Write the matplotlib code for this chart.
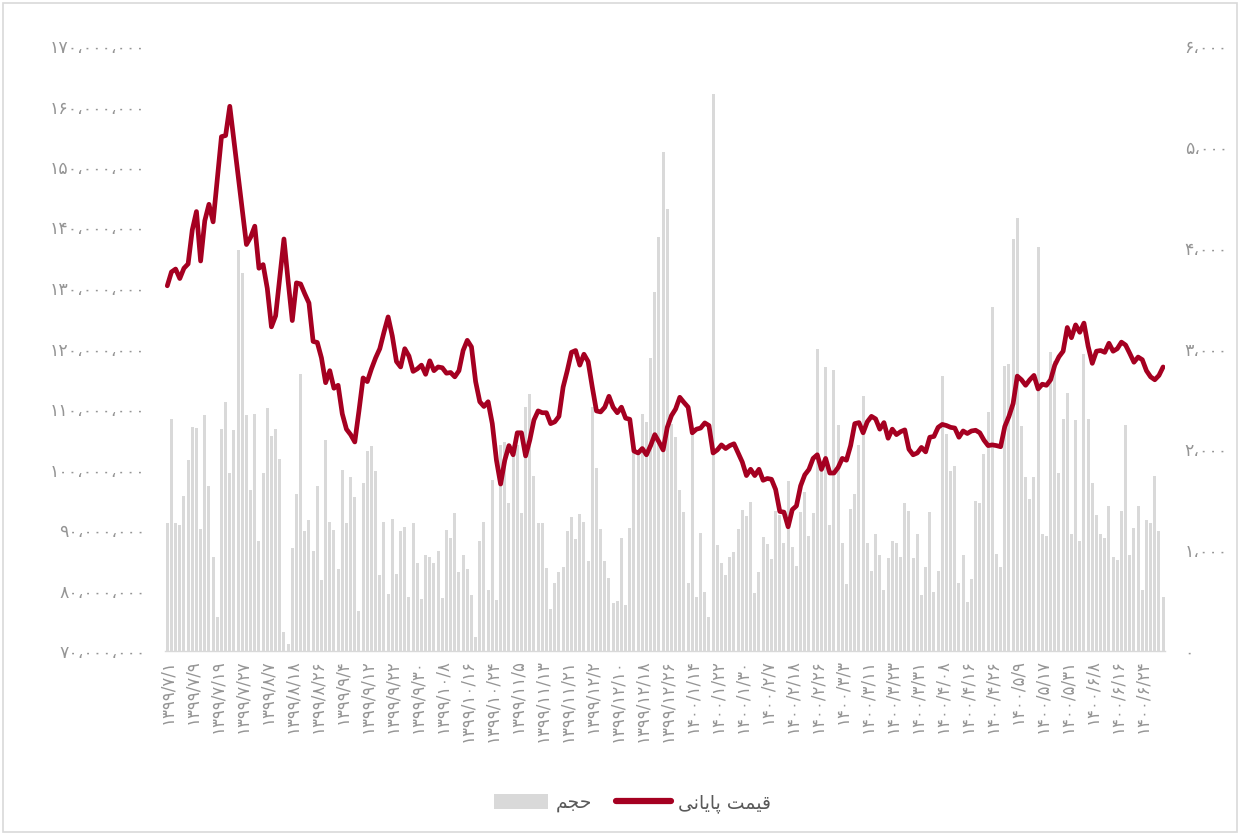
import matplotlib
matplotlib.use('Agg')
import matplotlib.pyplot as plt
import numpy as np
from matplotlib.patches import Patch, Rectangle
from matplotlib.lines import Line2D
from matplotlib.ticker import FuncFormatter

plt.rcParams['font.family'] = ['DejaVu Sans', 'Noto Sans']

# Volume (millions of shares)
volume_m = [
    91.1, 108.3, 91.1, 90.8, 95.7, 101.5, 107.0, 106.9, 90.2, 109.0, 97.2, 85.6, 75.6, 106.7, 111.1, 99.4,
    106.5, 136.3, 132.5, 109.0, 96.6, 109.1, 88.1, 99.4, 110.2, 105.6, 106.7, 101.8, 73.1, 71.1, 87.1, 96.0,
    115.8, 89.9, 91.6, 86.5, 97.2, 81.7, 104.8, 91.3, 90.0, 83.6, 100.0, 91.1, 98.7, 95.5, 76.6, 97.7, 103.0,
    103.9, 99.8, 82.5, 91.3, 79.4, 91.8, 82.7, 89.9, 90.5, 79.0, 91.1, 84.6, 78.6, 85.8, 85.5, 84.6, 86.6,
    78.7, 90.0, 88.7, 92.8, 83.1, 85.8, 83.6, 79.2, 72.3, 88.1, 91.4, 80.1, 98.2, 78.4, 104.0, 104.6, 94.4,
    104.0, 104.0, 92.8, 110.4, 112.4, 98.9, 91.2, 91.1, 83.8, 76.9, 81.3, 83.1, 83.9, 89.9, 92.1,
    88.5, 92.7, 91.3, 84.9, 110.4, 100.3, 90.2, 84.9, 82.1, 77.9, 78.3, 88.7, 77.6, 90.4, 102.7, 102.7,
    109.1, 107.9, 118.4, 129.3, 138.5, 152.4, 143.1, 107.6, 105.3, 96.6, 93.0, 81.3, 106.1, 78.9, 89.5,
    79.8, 75.7, 162.0, 87.5, 84.6, 82.5, 85.5, 86.4, 90.2, 93.3, 92.3, 94.6, 79.6, 83.1, 88.8, 87.7, 85.2, 93.1,
    92.5, 87.9, 98.1, 87.2, 84.0, 92.9, 96.3, 89.0, 92.8, 120.0, 100.3, 117.0, 90.8, 116.5, 107.4, 87.8,
    81.1, 93.5, 95.9, 104.1, 112.2, 87.8, 83.2, 89.3, 85.8, 80.1, 85.4, 88.1, 87.9, 85.5, 94.5, 93.1, 85.3,
    89.3, 79.3, 83.9, 93.0, 79.8, 83.2, 115.4, 105.8, 99.7, 100.6, 81.3, 85.8, 78.1, 81.9,
    94.8, 94.5, 102.6, 109.5, 126.9, 86.1, 83.9, 117.1, 117.4, 138.1, 141.5, 107.2, 98.7, 95.1, 98.7, 136.7,
    89.4, 89.0, 119.5, 118.0, 99.5, 108.3, 112.6, 89.4, 108.1, 88.1, 119.1, 108.3, 97.7, 92.5, 89.3, 88.7,
    93.9, 85.5, 85.0, 93.2, 107.4, 85.8, 90.4, 93.9, 80.1, 91.6, 91.1, 99.0, 89.9, 79.0,
]

# Closing price
price = [
    3622, 3759, 3788, 3694, 3796, 3839, 4176, 4358, 3868, 4267, 4430, 4256, 4684, 5101, 5112, 5402,
    5061, 4720, 4376, 4031, 4104, 4213, 3796, 3832, 3596, 3215, 3324, 3705, 4086, 3669, 3277, 3651,
    3640, 3542, 3451, 3070, 3060, 2907, 2661, 2780, 2606, 2635, 2352, 2200, 2146, 2073, 2381, 2708, 2672,
    2798, 2907, 2998, 3161, 3313, 3125, 2871, 2817, 2998, 2925, 2773, 2798, 2835, 2744, 2878, 2780,
    2817, 2809, 2755, 2762, 2719, 2780, 2980, 3081, 3016, 2672, 2472, 2425, 2472, 2255, 1892, 1656,
    1892, 2037, 1946, 2164, 2164, 1935, 2091, 2291, 2381, 2363, 2363, 2255, 2273, 2327, 2617, 2780, 2962,
    2980, 2835, 2943, 2871, 2617, 2381, 2371, 2418, 2526, 2418, 2363, 2418, 2309, 2298, 1983, 1964,
    2008, 1946, 2037, 2146, 2073, 1994, 2218, 2334, 2400, 2516, 2465, 2418, 2164, 2200, 2211, 2262,
    2236, 1964, 1994, 2044, 2008, 2037, 2055, 1964, 1874, 1740, 1802, 1740, 1802, 1693, 1711, 1703, 1602, 1384,
    1377, 1232, 1402, 1439, 1638, 1747, 1801, 1910, 1946, 1801, 1910, 1765, 1765, 1820, 1910, 1892,
    2037, 2255, 2265, 2164, 2273, 2327, 2302, 2200, 2265, 2110, 2200, 2146, 2175, 2193, 2001, 1946,
    1964, 2019, 1975, 2120, 2128, 2218, 2247, 2236, 2218, 2211, 2120, 2182, 2157, 2182,
    2189, 2164, 2091, 2037, 2044, 2037, 2026, 2226, 2327, 2454, 2726, 2690, 2635, 2690, 2733, 2599,
    2646, 2635, 2690, 2835, 2918, 2973, 3208, 3107, 3234, 3161, 3252, 3023, 2853, 2973, 2980, 2962,
    3052, 2973, 2998, 3063, 3034, 2951, 2864, 2915, 2889, 2780, 2719, 2690, 2733, 2817,
]

# Date tick labels (every 6th trading day)
tick_labels = [
    "1399/7/1", "1399/7/9", "1399/7/19", "1399/7/27", "1399/8/7", "1399/8/18", "1399/8/26",
    "1399/9/4", "1399/9/12", "1399/9/22", "1399/9/30", "1399/10/8", "1399/10/16", "1399/10/24",
    "1399/11/5", "1399/11/13", "1399/11/21", "1399/12/2", "1399/12/10", "1399/12/18", "1399/12/26",
    "1400/1/14", "1400/1/22", "1400/1/30", "1400/2/7", "1400/2/18", "1400/2/26", "1400/3/3",
    "1400/3/11", "1400/3/23", "1400/3/31", "1400/4/08", "1400/4/16", "1400/4/26", "1400/5/9",
    "1400/5/17", "1400/5/31", "1400/6/8", "1400/6/16", "1400/6/24",
]
tick_step = 6

# Legend labels (Persian, in visual order with presentation forms)
label_volume = "\uFEE2\uFEA0\uFEA3"  # حجم
label_price = "\uFBFD\uFEE7\uFE8E\uFBFE\uFE8E\uFB58 \uFE96\uFEE4\uFBFF\uFED7"  # قیمت پایانی

FA = str.maketrans('0123456789,', '۰۱۲۳۴۵۶۷۸۹\u060C')


def fa(s):
    return s.translate(FA)


W, H = 1240, 834
fig = plt.figure(figsize=(W / 100, H / 100), dpi=100)
fig.patch.set_facecolor('white')
ax = fig.add_axes([165.2 / W, (H - 651) / H, 1000 / W, 605 / H])

x = np.arange(len(volume_m))
bar_color = '#d9d9d9'
line_color = '#a50021'
text_color = '#959595'

ax.bar(x, volume_m, width=0.72, color=bar_color, zorder=1)
ax.set_xlim(-0.5, len(x) - 0.5)
ax.set_ylim(70, 170)
ax.set_yticks(np.arange(70, 171, 10))
ax.yaxis.set_major_formatter(FuncFormatter(lambda v, p: fa(f"{int(round(v * 1e6)):,}")))

ax2 = ax.twinx()
ax2.plot(x, price, color=line_color, lw=3.4, solid_joinstyle='round', solid_capstyle='round')
ax2.set_ylim(0, 6000)
ax2.set_yticks(np.arange(0, 6001, 1000))
ax2.yaxis.set_major_formatter(FuncFormatter(lambda v, p: fa(f"{int(round(v)):,}")))

ax.set_xticks(x[::tick_step])
ax.set_xticklabels([fa(t) for t in tick_labels], rotation=90)

for a in (ax, ax2):
    for s in a.spines.values():
        s.set_visible(False)
ax.spines['bottom'].set_visible(True)
ax.spines['bottom'].set_color(bar_color)
ax.spines['bottom'].set_linewidth(1.0)

ax.tick_params(axis='y', length=0, colors=text_color, labelsize=12.5, pad=14)
ax.tick_params(axis='x', length=0, colors=text_color, labelsize=12, pad=6)
ax2.tick_params(axis='y', length=0, colors=text_color, labelsize=12.5, pad=14)

handles = [Patch(facecolor=bar_color, edgecolor='none'),
           Line2D([0], [0], color=line_color, lw=4.5, solid_capstyle='round')]
fig.legend(handles, [label_volume, label_price], loc='center',
           bbox_to_anchor=(0.51, 1 - 803 / H), ncol=2, frameon=False,
           fontsize=13.5, handlelength=2.9, handleheight=0.8, handletextpad=0.4,
           columnspacing=1.3, labelcolor='#595959')

fig.add_artist(Rectangle((3 / W, 2 / H), 1234 / W, 829 / H, transform=fig.transFigure,
                         fill=False, edgecolor='#d9d9d9', lw=1.2))

fig.savefig('out.png', dpi=100)
